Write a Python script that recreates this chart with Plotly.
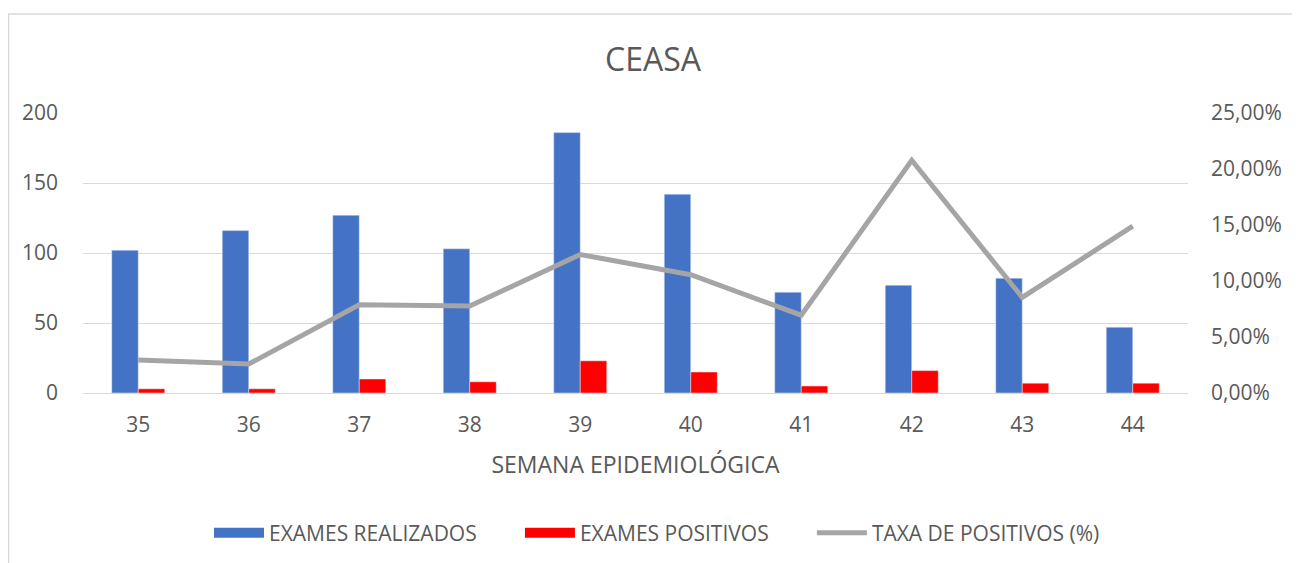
import plotly.graph_objects as go

semanas = ["35", "36", "37", "38", "39", "40", "41", "42", "43", "44"]
exames_realizados = [102, 116, 127, 103, 186, 142, 72, 77, 82, 47]
exames_positivos = [3, 3, 10, 8, 23, 15, 5, 16, 7, 7]
taxa_positivos = [p / r for p, r in zip(exames_positivos, exames_realizados)]

txt = "#595959"
font_family = "Open Sans, Liberation Sans, sans-serif"
FS = 21
PAD = "\u00a0" * 7

fig = go.Figure()
fig.add_trace(go.Bar(x=semanas, y=exames_realizados, name="EXAMES REALIZADOS",
                     marker=dict(color="#4472C4"), legendgroup="r", showlegend=False))
fig.add_trace(go.Bar(x=semanas, y=exames_positivos, name="EXAMES POSITIVOS",
                     marker=dict(color="#FF0000"), legendgroup="p", showlegend=False))
fig.add_trace(go.Scatter(x=semanas, y=taxa_positivos, name="TAXA DE POSITIVOS (%)",
                         mode="lines", line=dict(color="#A5A5A5", width=5),
                         yaxis="y2", legendgroup="t", showlegend=False))
# legend entries (Excel-style wide swatches)
fig.add_trace(go.Scatter(x=[None], y=[None], mode="lines", name="EXAMES REALIZADOS" + PAD,
                         line=dict(color="#4472C4", width=14), legendgroup="r"))
fig.add_trace(go.Scatter(x=[None], y=[None], mode="lines", name="EXAMES POSITIVOS" + PAD,
                         line=dict(color="#FF0000", width=14), legendgroup="p"))
fig.add_trace(go.Scatter(x=[None], y=[None], mode="lines", name="TAXA DE POSITIVOS (%)",
                         line=dict(color="#A5A5A5", width=5), legendgroup="t"))

W, H = 1292, 555
l, r, t, b = 75, 112, 105, 170

fig.update_layout(
    width=W, height=H,
    margin=dict(l=l, r=r, t=t, b=b),
    paper_bgcolor="white", plot_bgcolor="white",
    separators=",.",
    font=dict(family=font_family, size=FS, color=txt),
    barmode="group", bargap=0.52, bargroupgap=0,
    title=dict(text="CEASA", x=645 / W, xref="container", xanchor="center",
               y=1 - 52 / H, yanchor="middle",
               font=dict(size=32, color=txt, family=font_family)),
    xaxis=dict(title=dict(text="SEMANA EPIDEMIOLÓGICA", standoff=19,
                          font=dict(size=23, color=txt)),
               showgrid=False, showline=False, ticks="",
               tickfont=dict(size=FS, color=txt), ticklabelstandoff=17),
    yaxis=dict(range=[0, 200], dtick=50, showgrid=True, gridcolor="#D9D9D9",
               gridwidth=1, zeroline=True, zerolinecolor="#D9D9D9",
               zerolinewidth=1, showline=False, ticks="",
               tickfont=dict(size=FS, color=txt), ticklabelstandoff=24),
    yaxis2=dict(range=[0, 0.25], dtick=0.05, tickformat=".2%", overlaying="y",
                side="right", showgrid=False, zeroline=False, showline=False,
                tickfont=dict(size=FS, color=txt), ticklabelstandoff=22),
    legend=dict(orientation="h", x=649 / W, xref="container", xanchor="center",
                y=1 - 525 / H, yref="container", yanchor="middle",
                font=dict(size=FS, color=txt), itemwidth=50,
                traceorder="normal"),
    showlegend=True,
)

# outer chart border
pw = W - l - r
ph = H - t - b
fig.add_shape(type="rect", xref="paper", yref="paper",
              x0=(0.5 - l) / pw, x1=(W - 1.5 - l) / pw,
              y0=(-b - 5) / ph, y1=(H - 6 - b) / ph,
              line=dict(color="#D9D9D9", width=1.5), fillcolor="rgba(0,0,0,0)",
              layer="below")

fig.write_html("out.html")
